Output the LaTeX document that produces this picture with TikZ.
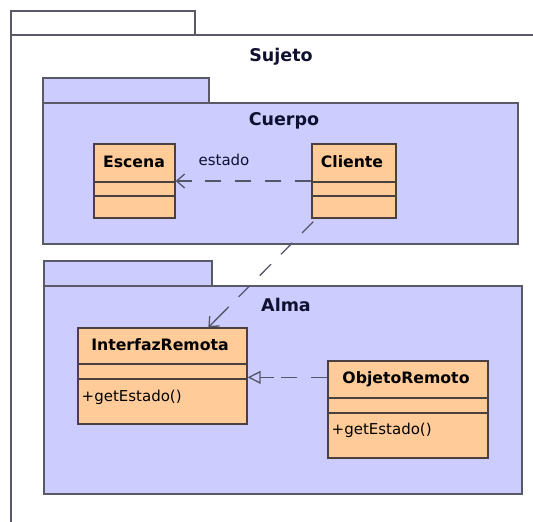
\documentclass[tikz,border=0pt]{standalone}
\usepackage{fontspec}
\setmainfont{DejaVu Sans}
\usetikzlibrary{arrows.meta,calc}
\definecolor{pkgfill}{HTML}{CCCCFF}
\definecolor{clsfill}{HTML}{FFCC99}
\definecolor{pkgline}{HTML}{5A5A66}
\definecolor{clsline}{HTML}{4A4040}
\definecolor{conline}{HTML}{555568}
\definecolor{titletext}{HTML}{101030}
\tikzset{
  pkgbox/.style={draw=pkgline, line width=1.3pt, fill=#1},
  clsbox/.style={draw=clsline, line width=1.3pt, fill=clsfill, inner sep=0pt},
  sepline/.style={draw=clsline, line width=1.3pt},
  pkgtitle/.style={font=\fontsize{17.5}{20}\selectfont\bfseries, text=titletext, anchor=base, inner sep=0pt},
  clsname/.style={font=\fontsize{15.7}{18}\selectfont\bfseries, text=black, anchor=base, inner sep=0pt},
  opname/.style={font=\fontsize{15}{18}\selectfont, text=black, anchor=base west, inner sep=0pt},
  conn/.style={draw=conline, line width=1.3pt, dash pattern=on 16pt off 14pt},
  tipline/.style={draw=conline, line width=1.3pt, solid},
  openarrow/.style={-{Straight Barb[length=8pt,width=14pt,line width=1.3pt]}},
  realarrow/.style={-{Triangle[open,length=13pt,width=13pt,line width=1.3pt,fill=pkgfill]}},
}
\begin{document}
\begin{tikzpicture}[x=1pt,y=-1pt]
\useasboundingbox (0,0) rectangle (533,522);
\clip (0,0) rectangle (533,522);
\fill[white] (0,0) rectangle (533,522);
% Sujeto package
\draw[pkgbox=white] (11,11) rectangle (195,35);
\draw[pkgbox=white] (11,35) rectangle (545,535);
\node[pkgtitle] (sujeto) at (281,61) {Sujeto};
% Cuerpo package
\draw[pkgbox=pkgfill] (43,78) rectangle (209,103);
\draw[pkgbox=pkgfill] (43,103) rectangle (518,244);
\node[pkgtitle] (cuerpo) at (284,125) {Cuerpo};
% Alma package
\draw[pkgbox=pkgfill] (44,261) rectangle (212,286);
\draw[pkgbox=pkgfill] (44,286) rectangle (522,494);
\node[pkgtitle] (alma) at (286,311.5) {Alma};
% Escena
\node[clsbox, minimum width=81pt, minimum height=74pt] (escena) at (134.5,181) {};
\draw[sepline] (94,182) -- (175,182);
\draw[sepline] (94,196) -- (175,196);
\node[clsname] (escenaname) at (134,167) {Escena};
% Cliente
\node[clsbox, minimum width=84pt, minimum height=74pt] (cliente) at (354,181) {};
\draw[sepline] (312,182) -- (396,182);
\draw[sepline] (312,196) -- (396,196);
\node[clsname] (clientename) at (352,167) {Cliente};
% InterfazRemota
\node[clsbox, minimum width=169pt, minimum height=96pt] (interfaz) at (162.5,376) {};
\draw[sepline] (78,364) -- (247,364);
\draw[sepline] (78,379) -- (247,379);
\node[clsname] (interfazname) at (160,350.5) {InterfazRemota};
\node[opname] (interfazop) at (81.5,401.5) {+getEstado()};
% ObjetoRemoto
\node[clsbox, minimum width=160pt, minimum height=97pt] (objeto) at (408,409.5) {};
\draw[sepline] (328,398) -- (488,398);
\draw[sepline] (328,413) -- (488,413);
\node[clsname] (objetoname) at (406,383.5) {ObjetoRemoto};
\node[opname] (objetoop) at (331.5,434.5) {+getEstado()};
% connectors
\draw[conn] (cliente.west) -- ($(escena.east)+(16,0)$);
\draw[tipline, openarrow] ($(escena.east)+(16,0)$) -- (escena.east);
\node[font=\fontsize{15}{18}\selectfont, text=titletext, anchor=base, inner sep=0pt] (estado) at (224,165) {estado};
\coordinate (clienteout) at ($(cliente.south west)+(2,3)$);
\coordinate (interfazin) at ($(interfaz.north west)+(131,0)$);
\coordinate (diagtip) at ($(interfazin)!14pt!(clienteout)$);
\draw[conn] (clienteout) -- (diagtip);
\draw[tipline, openarrow] (diagtip) -- (interfazin);
\coordinate (objetoout) at ($(objeto.north west)+(0,17)$);
\coordinate (realtip) at ($(objetoout -| interfaz.east)+(26,0)$);
\draw[conn] (objetoout) -- (realtip);
\draw[tipline, realarrow] (realtip) -- (objetoout -| interfaz.east);
\end{tikzpicture}
\end{document}
